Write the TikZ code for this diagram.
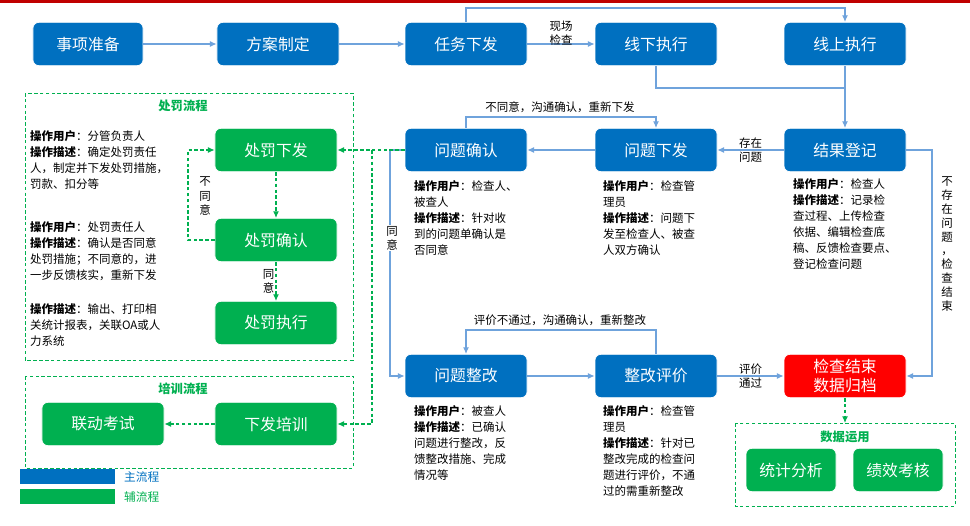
\documentclass[tikz,border=0pt]{standalone}
\usepackage{fontspec}
\setmainfont{Noto Sans CJK SC}
\usetikzlibrary{positioning,arrows.meta}
\definecolor{mainblue}{HTML}{0070C0}
\definecolor{auxgreen}{HTML}{00B050}
\definecolor{endred}{HTML}{FF0000}
\definecolor{lineblue}{HTML}{6FA3DC}
\definecolor{topred}{HTML}{C00000}
\begin{document}
\begin{tikzpicture}[
        x=0.03cm, y=-0.03cm,
        box/.style={rounded corners=5pt, minimum width=3.66cm, minimum height=1.3cm,
            text=white, font=\fontsize{13.5}{15.5}\selectfont, align=center, draw=white, line width=0.6pt},
        mainbox/.style={box, fill=mainblue},
        subbox/.style={box, fill=auxgreen},
        endbox/.style={box, fill=endred},
        desc/.style={font=\fontsize{9.8}{13.8}\selectfont, align=left, anchor=north west, inner sep=0pt},
        tag/.style={font=\fontsize{9.8}{12}\selectfont, align=center, inner sep=1pt},
        flow/.style={draw=lineblue, line width=1pt, -{Latex[length=2mm,width=1.8mm]}},
        aux/.style={draw=auxgreen, line width=1pt, dash pattern=on 3pt off 2pt, -{Latex[length=2mm,width=1.8mm]}},
        group/.style={draw=auxgreen, line width=0.8pt, dash pattern=on 3pt off 2pt},
        gtitle/.style={text=auxgreen, font=\bfseries\fontsize{10.5}{12}\selectfont}
    ]
    \useasboundingbox (0,0) rectangle (970,525);
    \fill[topred] (0,0) rectangle (970,3);

    % main row
    \node[mainbox, minimum width=3.3cm] (prep) at (88,44) {事项准备};
    \node[mainbox] (plan) at (278,44) {方案制定};
    \node[mainbox] (task) at (466,44) {任务下发};
    \node[mainbox] (offline) at (656,44) {线下执行};
    \node[mainbox] (online) at (845,44) {线上执行};
    \node[mainbox] (confirm) at (466,150) {问题确认};
    \node[mainbox] (issue) at (656,150) {问题下发};
    \node[mainbox] (record) at (845,150) {结果登记};
    \node[mainbox] (rectify) at (466,376) {问题整改};
    \node[mainbox] (review) at (656,376) {整改评价};
    \node[endbox] (archive) at (845,376) {检查结束\\数据归档};

    % auxiliary flows
    \draw[group] (25,93) rectangle (353,360);
    \node[gtitle] at (183,106) {处罚流程};
    \draw[group] (25,376) rectangle (353,468);
    \node[gtitle] at (183,389) {培训流程};
    \draw[group] (735,423) rectangle (955,506);
    \node[gtitle] at (845,437) {数据运用};
    \node[subbox] (issuepen) at (276,150) {处罚下发};
    \node[subbox] (confpen) at (276,240) {处罚确认};
    \node[subbox] (execpen) at (276,323) {处罚执行};
    \node[subbox] (train) at (276,424) {下发培训};
    \node[subbox] (exam) at (103,424) {联动考试};
    \node[subbox, minimum width=2.7cm] (stats) at (791,470) {统计分析};
    \node[subbox, minimum width=2.7cm] (kpi) at (898,470) {绩效考核};

    % descriptions
    \node[desc] at (30,130) {\textbf{操作用户}：分管负责人\\\textbf{操作描述}：确定处罚责任\\人，制定并下发处罚措施，\\罚款、扣分等};
    \node[desc] at (30,221) {\textbf{操作用户}：处罚责任人\\\textbf{操作描述}：确认是否同意\\处罚措施；不同意的，进\\一步反馈核实，重新下发};
    \node[desc] at (30,303) {\textbf{操作描述}：输出、打印相\\关统计报表，关联OA或人\\力系统};
    \node[desc] at (414,180) {\textbf{操作用户}：检查人、\\被查人\\\textbf{操作描述}：针对收\\到的问题单确认是\\否同意};
    \node[desc] at (603,180) {\textbf{操作用户}：检查管\\理员\\\textbf{操作描述}：问题下\\发至检查人、被查\\人双方确认};
    \node[desc] at (793,178) {\textbf{操作用户}：检查人\\\textbf{操作描述}：记录检\\查过程、上传检查\\依据、编辑检查底\\稿、反馈检查要点、\\登记检查问题};
    \node[desc] at (414,405) {\textbf{操作用户}：被查人\\\textbf{操作描述}：已确认\\问题进行整改，反\\馈整改措施、完成\\情况等};
    \node[desc] at (603,405) {\textbf{操作用户}：检查管\\理员\\\textbf{操作描述}：针对已\\整改完成的检查问\\题进行评价，不通\\过的需重新整改};

    % main connectors
    \draw[flow] (prep) -- (plan);
    \draw[flow] (plan) -- (task);
    \draw[flow] (task) -- node[tag, above=-3pt] {现场\\检查} (offline);
    \draw[flow] (task.north) |- (466,8) -| (online.north);
    \draw[flow] (online) -- (record);
    \draw[draw=lineblue, line width=1pt] (offline.south) |- (845,88);
    \draw[flow] (record) -- node[tag] {存在\\问题} (issue);
    \draw[flow] (issue) -- (confirm);
    \draw[flow] (confirm.north) |- (560,117) node[tag, above=2pt] {不同意，沟通确认，重新下发} -| (issue.north);
    \draw[flow] (confirm.west) -| (390,376) -- (rectify.west);
    \node[tag, fill=white] at (392,238) {同\\意};
    \draw[flow] (rectify) -- (review);
    \draw[flow] (review.north) |- (560,330) node[tag, above=2pt] {评价不通过，沟通确认，重新整改} -| (rectify.north);
    \draw[flow] (review) -- node[tag] {评价\\通过} (archive);
    \draw[flow] (record.east) -| (932,376) -- (archive.east);
    \node[tag, font=\fontsize{9.8}{11.8}\selectfont] at (947,244) {不\\存\\在\\问\\题\\，\\检\\查\\结\\束};

    % auxiliary connectors
    \draw[aux] (confirm.west) -- (issuepen.east);
    \draw[aux] (372,150) -- (372,424) -- (train.east);
    \draw[aux] (issuepen) -- (confpen);
    \draw[aux] (confpen) -- node[tag, left] {同\\意} (execpen);
    \draw[aux] (confpen.west) -| (188,150) -- (issuepen.west);
    \node[tag] at (205,196) {不\\同\\意};
    \draw[aux] (train) -- (exam);
    \draw[aux] (archive.south) -- (845,423);

    % legend
    \fill[mainblue] (20,469) rectangle (115,484);
    \node[anchor=west, text=mainblue, font=\fontsize{10}{11}\selectfont] at (120,477) {主流程};
    \fill[auxgreen] (20,489) rectangle (115,504);
    \node[anchor=west, text=auxgreen, font=\fontsize{10}{11}\selectfont] at (120,497) {辅流程};
\end{tikzpicture}
\end{document}
